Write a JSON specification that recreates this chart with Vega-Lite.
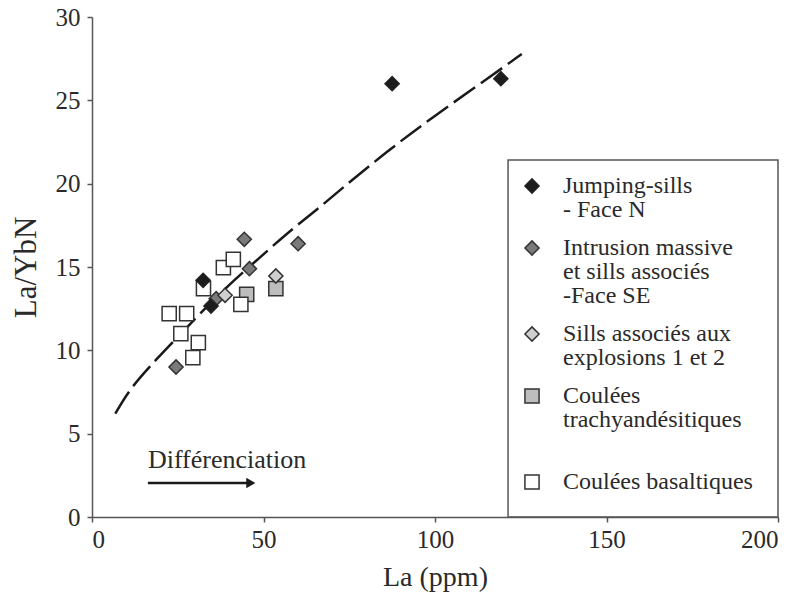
{
  "$schema": "https://vega.github.io/schema/vega-lite/v6.json",
  "width": 686,
  "height": 500,
  "autosize": {"type": "none"},
  "padding": {"left": 92, "top": 17, "right": 22, "bottom": 84},
  "background": "white",
  "datasets": {
    "pts": [
      {"La": 45.1, "ratio": 13.36, "group": "Coulées|trachyandésitiques| "},
      {"La": 53.6, "ratio": 13.7, "group": "Coulées|trachyandésitiques| "},
      {"La": 38.3, "ratio": 14.96, "group": "Coulées basaltiques"},
      {"La": 41.2, "ratio": 15.46, "group": "Coulées basaltiques"},
      {"La": 32.5, "ratio": 13.7, "group": "Coulées basaltiques"},
      {"La": 43.4, "ratio": 12.76, "group": "Coulées basaltiques"},
      {"La": 22.5, "ratio": 12.2, "group": "Coulées basaltiques"},
      {"La": 27.6, "ratio": 12.2, "group": "Coulées basaltiques"},
      {"La": 25.9, "ratio": 11.0, "group": "Coulées basaltiques"},
      {"La": 31.0, "ratio": 10.46, "group": "Coulées basaltiques"},
      {"La": 29.4, "ratio": 9.56, "group": "Coulées basaltiques"},
      {"La": 44.4, "ratio": 16.66, "group": "Intrusion massive|et sills associés|-Face SE"},
      {"La": 45.9, "ratio": 14.9, "group": "Intrusion massive|et sills associés|-Face SE"},
      {"La": 24.5, "ratio": 9.0, "group": "Intrusion massive|et sills associés|-Face SE"},
      {"La": 60.1, "ratio": 16.4, "group": "Intrusion massive|et sills associés|-Face SE"},
      {"La": 36.2, "ratio": 13.1, "group": "Intrusion massive|et sills associés|-Face SE"},
      {"La": 38.8, "ratio": 13.3, "group": "Sills associés aux|explosions 1 et 2"},
      {"La": 53.6, "ratio": 14.46, "group": "Sills associés aux|explosions 1 et 2"},
      {"La": 87.5, "ratio": 26.0, "group": "Jumping-sills|- Face N"},
      {"La": 119.2, "ratio": 26.3, "group": "Jumping-sills|- Face N"},
      {"La": 32.4, "ratio": 14.2, "group": "Jumping-sills|- Face N"},
      {"La": 34.7, "ratio": 12.66, "group": "Jumping-sills|- Face N"}
    ],
    "curve": [
      {"La": 6.8, "ratio": 6.2},
      {"La": 10.6, "ratio": 7.55},
      {"La": 16.4, "ratio": 8.95},
      {"La": 24.2, "ratio": 10.62},
      {"La": 30.5, "ratio": 12.0},
      {"La": 40.2, "ratio": 14.0},
      {"La": 48.5, "ratio": 15.48},
      {"La": 56.8, "ratio": 17.02},
      {"La": 65.5, "ratio": 18.42},
      {"La": 72.3, "ratio": 19.62},
      {"La": 86.4, "ratio": 22.0},
      {"La": 99.5, "ratio": 24.02},
      {"La": 116.0, "ratio": 26.4},
      {"La": 125.3, "ratio": 27.78}
    ],
    "box": [{"x1": 121.3, "x2": 200, "y1": 0, "y2": 21.42}],
    "arrow": [{"La": 16.3, "ratio": 2.04}, {"La": 46.0, "ratio": 2.04}],
    "head": [{"La": 46.3, "ratio": 2.04}],
    "label": [{"La": 16.3, "ratio": 2.94, "text": "Différenciation"}]
  },
  "config": {
    "view": {"stroke": null},
    "font": "Liberation Serif",
    "style": {"guide-label": {"dy": 7, "lineHeight": 24}},
    "axis": {
      "grid": false,
      "domainColor": "#555",
      "domainWidth": 1.5,
      "tickColor": "#555",
      "tickWidth": 1.5,
      "tickSize": 5,
      "labelFont": "Liberation Serif",
      "labelFontSize": 25,
      "labelColor": "#2a2a2a",
      "titleFont": "Liberation Serif",
      "titleFontWeight": "normal",
      "titleColor": "#2a2a2a"
    },
    "legend": {
      "orient": "none",
      "legendX": 428,
      "legendY": 157,
      "padding": 0,
      "labelFont": "Liberation Serif",
      "labelFontSize": 24,
      "labelColor": "#2a2a2a",
      "labelBaseline": "alphabetic",
      "labelOffset": 19,
      "labelLimit": 400,
      "symbolSize": 200,
      "symbolStrokeColor": "#333",
      "symbolStrokeWidth": 1.5,
      "rowPadding": 14
    }
  },
  "layer": [
    {
      "data": {"name": "box"},
      "mark": {"type": "rect", "fill": null, "stroke": "#555", "strokeWidth": 1.5},
      "encoding": {
        "x": {"field": "x1", "type": "quantitative", "scale": {"domain": [0, 200], "nice": false},
              "axis": {"values": [0, 50, 100, 150, 200], "title": "La (ppm)", "titleFontSize": 28, "labelPadding": -2, "titlePadding": 11}},
        "x2": {"field": "x2"},
        "y": {"field": "y1", "type": "quantitative", "scale": {"domain": [0, 30], "nice": false},
              "axis": {"values": [0, 5, 10, 15, 20, 25, 30], "title": "La/YbN", "titleFontSize": 31, "labelOffset": -7, "labelPadding": 7, "titlePadding": 13}},
        "y2": {"field": "y2"}
      }
    },
    {
      "data": {"name": "curve"},
      "mark": {"type": "line", "stroke": "#1a1a1a", "strokeWidth": 2.5, "strokeDash": [26, 7], "interpolate": "basis"},
      "encoding": {
        "x": {"field": "La", "type": "quantitative", "scale": {"domain": [0, 200], "nice": false}},
        "y": {"field": "ratio", "type": "quantitative", "scale": {"domain": [0, 30], "nice": false}}
      }
    },
    {
      "data": {"name": "pts"},
      "mark": {"type": "point", "filled": true, "size": 200, "strokeWidth": 1.5, "opacity": 1},
      "encoding": {
        "x": {"field": "La", "type": "quantitative", "scale": {"domain": [0, 200], "nice": false}},
        "y": {"field": "ratio", "type": "quantitative", "scale": {"domain": [0, 30], "nice": false}},
        "shape": {
          "field": "group", "type": "nominal",
          "scale": {
            "domain": ["Jumping-sills|- Face N", "Intrusion massive|et sills associés|-Face SE", "Sills associés aux|explosions 1 et 2", "Coulées|trachyandésitiques| ", "Coulées basaltiques"],
            "range": ["diamond", "diamond", "diamond", "square", "square"]
          },
          "legend": {"title": null, "labelExpr": "split(datum.label, '|')"}
        },
        "fill": {
          "field": "group", "type": "nominal",
          "scale": {
            "domain": ["Jumping-sills|- Face N", "Intrusion massive|et sills associés|-Face SE", "Sills associés aux|explosions 1 et 2", "Coulées|trachyandésitiques| ", "Coulées basaltiques"],
            "range": ["#1c1c1c", "#7a7a7a", "#cfcfcf", "#bdbdbd", "#ffffff"]
          },
          "legend": {"title": null, "labelExpr": "split(datum.label, '|')"}
        },
        "stroke": {
          "field": "group", "type": "nominal",
          "scale": {
            "domain": ["Jumping-sills|- Face N", "Intrusion massive|et sills associés|-Face SE", "Sills associés aux|explosions 1 et 2", "Coulées|trachyandésitiques| ", "Coulées basaltiques"],
            "range": ["#222222", "#333333", "#333333", "#333333", "#333333"]
          },
          "legend": {"title": null, "labelExpr": "split(datum.label, '|')"}
        }
      }
    },
    {
      "data": {"name": "arrow"},
      "mark": {"type": "line", "stroke": "#1a1a1a", "strokeWidth": 2.5},
      "encoding": {
        "x": {"field": "La", "type": "quantitative", "scale": {"domain": [0, 200], "nice": false}},
        "y": {"field": "ratio", "type": "quantitative", "scale": {"domain": [0, 30], "nice": false}}
      }
    },
    {
      "data": {"name": "head"},
      "mark": {"type": "point", "shape": "triangle-right", "filled": true, "size": 110, "color": "#1a1a1a", "opacity": 1},
      "encoding": {
        "x": {"field": "La", "type": "quantitative", "scale": {"domain": [0, 200], "nice": false}},
        "y": {"field": "ratio", "type": "quantitative", "scale": {"domain": [0, 30], "nice": false}}
      }
    },
    {
      "data": {"name": "label"},
      "mark": {"type": "text", "align": "left", "baseline": "alphabetic", "font": "Liberation Serif", "fontSize": 26, "color": "#2a2a2a"},
      "encoding": {
        "x": {"field": "La", "type": "quantitative", "scale": {"domain": [0, 200], "nice": false}},
        "y": {"field": "ratio", "type": "quantitative", "scale": {"domain": [0, 30], "nice": false}},
        "text": {"field": "text"}
      }
    }
  ]
}
